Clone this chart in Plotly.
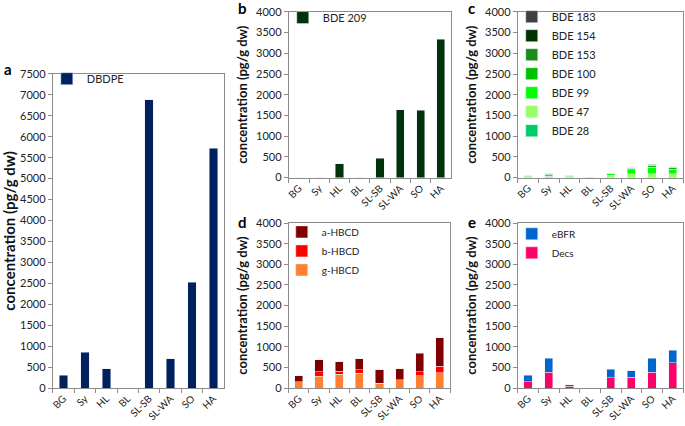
import plotly.graph_objects as go

sites = ["BG", "Sy", "HL", "BL", "SL-SB", "SL-WA", "SO", "HA"]

dbdpe = [309, 857, 463, 0, 6880, 702, 2520, 5720]
bde209 = [0, 0, 330, 0, 470, 1640, 1620, 3340]

bde28 = [3, 5, 3, 0, 3, 5, 5, 5]
bde47 = [10, 30, 10, 0, 60, 90, 90, 90]
bde99 = [22, 45, 22, 0, 27, 95, 155, 110]
bde100 = [5, 15, 5, 0, 10, 30, 40, 35]
bde153 = [0, 5, 0, 0, 0, 10, 10, 10]
bde154 = [0, 10, 0, 0, 0, 10, 20, 10]
bde183 = [0, 0, 0, 0, 0, 0, 5, 5]

g_hbcd = [157, 290, 337, 353, 115, 195, 298, 368]
b_hbcd = [0, 100, 70, 94, 5, 10, 94, 157]
a_hbcd = [140, 300, 236, 266, 327, 257, 446, 697]

decs = [149, 384, 47, 0, 251, 259, 384, 619]
ebfr = [164, 344, 31, 0, 203, 156, 344, 298]

W, H = 685, 426
FONT = "Lato"
AXC = "#8c8c8c"


def px_x(a, b):
    return [a / W, b / W]


def px_y(top, bottom):
    return [1 - bottom / H, 1 - top / H]


fig = go.Figure()

panels = {
    "a": dict(x=px_x(50, 222), y=px_y(69, 393), ymax=7500, tsize=15),
    "b": dict(x=px_x(287, 450), y=px_y(5, 176), ymax=4000, tsize=13),
    "c": dict(x=px_x(517, 683), y=px_y(5, 176), ymax=4000, tsize=13),
    "d": dict(x=px_x(287, 449), y=px_y(223, 393), ymax=4000, tsize=13),
    "e": dict(x=px_x(517, 683), y=px_y(223, 393), ymax=4000, tsize=13),
}

series = {
    "a": [("DBDPE", dbdpe, "#002060")],
    "b": [("BDE 209", bde209, "#00330a")],
    "c": [("BDE 28", bde28, "#00cc66"), ("BDE 47", bde47, "#99ff66"),
          ("BDE 99", bde99, "#00ff00"), ("BDE 100", bde100, "#00c000"),
          ("BDE 153", bde153, "#1a8c1a"), ("BDE 154", bde154, "#003300"),
          ("BDE 183", bde183, "#404040")],
    "d": [("g-HBCD", g_hbcd, "#ff8030"), ("b-HBCD", b_hbcd, "#ff0000"),
          ("a-HBCD", a_hbcd, "#7f0000")],
    "e": [("Decs", decs, "#ff0066"), ("eBFR", ebfr, "#0066cc")],
}

legend_pos = {
    "a": (44, 59, 11), "b": (281, -4, 11), "c": (511, -5, 11),
    "d": (280, 217, 10), "e": (511, 219, 10),
}

label_pos = {"a": (-1, 53), "b": (234, -10), "c": (465, -10), "d": (234, 210), "e": (465, 210)}

for i, key in enumerate(["a", "b", "c", "d", "e"]):
    n = i + 1
    xa = "x" if n == 1 else f"x{n}"
    ya = "y" if n == 1 else f"y{n}"
    lg = "legend" if n == 1 else f"legend{n}"
    for name, vals, col in series[key]:
        fig.add_trace(go.Bar(x=sites, y=vals, name=name, marker_color=col,
                             xaxis=xa, yaxis=ya, legend=lg, showlegend=True))
    p = panels[key]
    fig.layout[f"xaxis{'' if n == 1 else n}"] = dict(
        domain=p["x"], anchor=ya, type="category", showline=True, mirror=True,
        linecolor=AXC, ticks="outside", tickson="boundaries", ticklen=4,
        tickcolor=AXC, tickangle=-45, tickfont=dict(size=10, color="#222"),
        showgrid=False, fixedrange=True)
    fig.layout[f"yaxis{'' if n == 1 else n}"] = dict(
        domain=p["y"], anchor=xa, range=[0, p["ymax"]], dtick=500,
        showline=True, mirror=True, linecolor=AXC, ticks="outside", ticklen=4,
        tickcolor=AXC, tickfont=dict(size=11, color="#222"), showgrid=False,
        zeroline=False, fixedrange=True,
        title=dict(text="<b>concentration (pg/g dw)</b>",
                   font=dict(size=p["tsize"], color="#111"), standoff=5))
    lx, ly, lf = legend_pos[key]
    fig.layout[lg] = dict(x=lx / W, y=1 - ly / H, xanchor="left", yanchor="top",
                          bgcolor="rgba(0,0,0,0)", font=dict(size=lf, color="#222"),
                          traceorder="reversed", itemwidth=30)
    bx, by = label_pos[key]
    fig.add_annotation(text=f"<b>{key}</b>", x=bx / W, y=1 - by / H, xref="paper",
                       yref="paper", xanchor="left", yanchor="top", showarrow=False,
                       font=dict(size=15, color="#000"))

fig.update_layout(width=W, height=H, margin=dict(l=0, r=0, t=0, b=0),
                  barmode="stack", bargap=0.6, plot_bgcolor="white",
                  paper_bgcolor="white", font=dict(family=FONT), showlegend=True)

fig.write_html("out.html", config={"displayModeBar": False},
               post_script="document.body.style.margin='0';document.body.style.overflow='hidden';")
